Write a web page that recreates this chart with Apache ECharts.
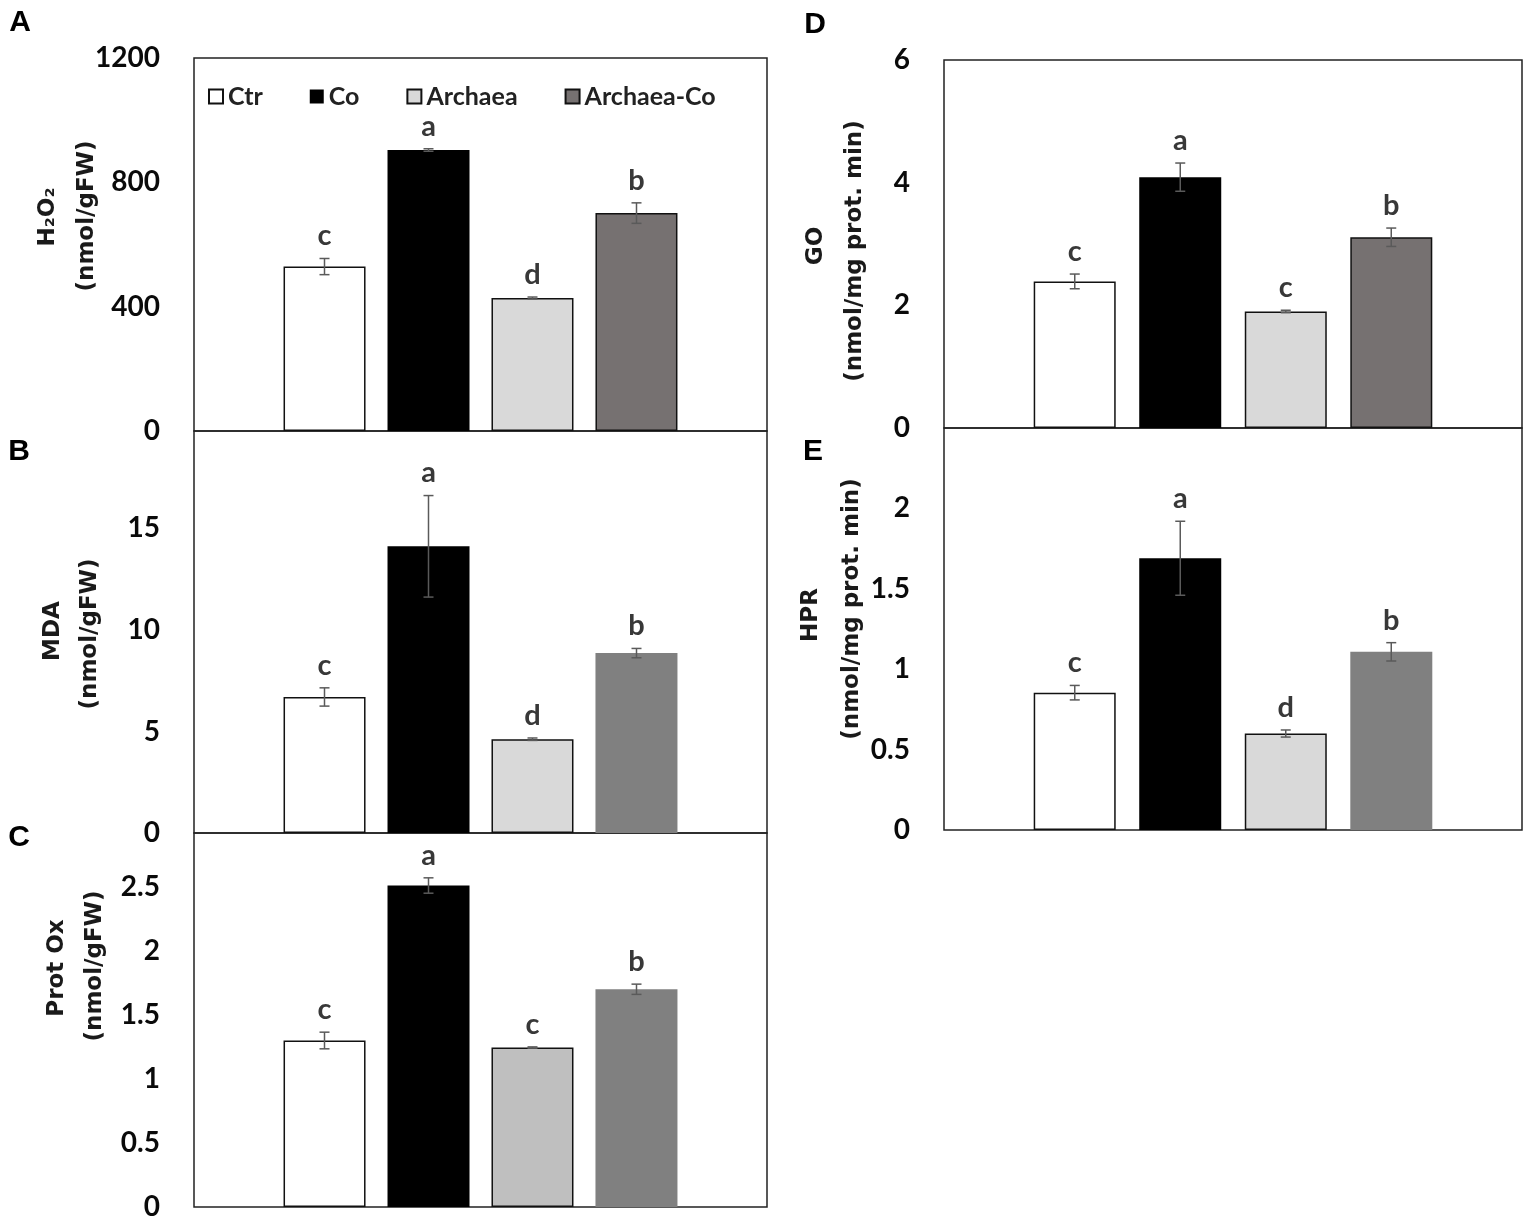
<!DOCTYPE html>
<html>
<head>
<meta charset="utf-8">
<script src="https://cdn.jsdelivr.net/npm/echarts@6/dist/echarts.min.js"></script>
<style>
  html, body { margin: 0; padding: 0; background: #fff; }
  #chart { width: 1536px; height: 1227px; }
</style>
</head>
<body>
<div id="chart"></div>
<script>
// treatments (one bar each, same order in every panel)
const treatments = ['Ctr', 'Co', 'Archaea', 'Archaea-Co'];

// A - H2O2 (nmol/gFW)
const h2o2 = [529, 904, 428, 701];
const h2o2Err = [26, 4, 3, 33];
const h2o2Letters = ['c', 'a', 'd', 'b'];

// B - MDA (nmol/gFW)
const mda = [6.7, 14.12, 4.62, 8.86];
const mdaErr = [0.45, 2.5, 0.06, 0.23];
const mdaLetters = ['c', 'a', 'd', 'b'];

// C - Prot Ox (nmol/gFW)
const protOx = [1.3, 2.51, 1.245, 1.7];
const protOxErr = [0.065, 0.06, 0.005, 0.04];
const protOxLetters = ['c', 'a', 'c', 'b'];

// D - GO (nmol/mg prot. min)
const go = [2.39, 4.09, 1.9, 3.11];
const goErr = [0.12, 0.23, 0.02, 0.15];
const goLetters = ['c', 'a', 'c', 'b'];

// E - HPR (nmol/mg prot. min)
const hpr = [0.854, 1.69, 0.6, 1.108];
const hprErr = [0.045, 0.23, 0.022, 0.057];
const hprLetters = ['c', 'a', 'd', 'b'];

const LABEL_FONT = 'Lato';
const TITLE_FONT = 'DejaVu Sans';

const fillsDark = ['#ffffff', '#000000', '#d9d9d9', '#767171'];
const fillsMid = ['#ffffff', '#000000', '#d9d9d9', '#808080'];
const fillsC = ['#ffffff', '#000000', '#bfbfbf', '#808080'];

const panels = [
  { values: h2o2, errs: h2o2Err, letters: h2o2Letters, fills: fillsDark, lastBorder: true,
    grid: { left: 194, top: 58, width: 573, height: 373 }, max: 1200, interval: 400, showMax: true,
    barWidth: 82, gap: 22 },
  { values: mda, errs: mdaErr, letters: mdaLetters, fills: fillsMid, lastBorder: false,
    grid: { left: 194, top: 431, width: 573, height: 402 }, max: 19.8, interval: 5, showMax: false,
    barWidth: 82, gap: 22 },
  { values: protOx, errs: protOxErr, letters: protOxLetters, fills: fillsC, lastBorder: false,
    grid: { left: 194, top: 833, width: 573, height: 374 }, max: 2.92, interval: 0.5, showMax: false,
    barWidth: 82, gap: 22 },
  { values: go, errs: goErr, letters: goLetters, fills: fillsDark, lastBorder: true,
    grid: { left: 944, top: 60, width: 578, height: 368 }, max: 6, interval: 2, showMax: true,
    barWidth: 82, gap: 23.5 },
  { values: hpr, errs: hprErr, letters: hprLetters, fills: fillsMid, lastBorder: false,
    grid: { left: 944, top: 428, width: 578, height: 402 }, max: 2.5, interval: 0.5, showMax: false,
    barWidth: 82, gap: 23.5 }
];

const grids = [], xAxes = [], yAxes = [], series = [];

panels.forEach((p, k) => {
  grids.push(Object.assign({ show: true, borderColor: '#222', borderWidth: 1.5, backgroundColor: 'transparent' }, p.grid));
  xAxes.push({
    type: 'category', gridIndex: k, data: [''],
    axisLine: { show: false }, axisTick: { show: false }, axisLabel: { show: false }
  });
  yAxes.push({
    type: 'value', gridIndex: k, min: 0, max: p.max, interval: p.interval,
    axisLine: { show: false }, axisTick: { show: false }, splitLine: { show: false },
    axisLabel: {
      margin: 34, color: '#0a0a0a', fontFamily: LABEL_FONT, fontWeight: 'bold', fontSize: 28,
      showMaxLabel: p.showMax, formatter: v => String(v)
    }
  });
  treatments.forEach((name, i) => {
    const bordered = i === 0 || i === 2 || (i === 3 && p.lastBorder);
    series.push({
      type: 'bar', name: name, xAxisIndex: k, yAxisIndex: k,
      barWidth: p.barWidth, barGap: (p.gap / p.barWidth * 100).toFixed(1) + '%',
      itemStyle: { color: p.fills[i], borderColor: bordered ? '#111' : p.fills[i], borderWidth: bordered ? 1.5 : 0 },
      emphasis: { disabled: true },
      data: [p.values[i]]
    });
  });
  // error bars + significance letters
  series.push({
    type: 'custom', xAxisIndex: k, yAxisIndex: k, z: 5, silent: true, clip: false,
    encode: { x: 0, y: 1 },
    data: p.values.map((v, i) => [0, v, p.errs[i]]),
    renderItem: (params, api) => {
      const i = params.dataIndex;
      const v = api.value(1), e = api.value(2);
      const x = api.coord([0, v])[0] + (i - 1.5) * (p.barWidth + p.gap);
      const yTop = api.coord([0, v + e])[1];
      const yBot = api.coord([0, v - e])[1];
      const cap = 5;
      const ls = { stroke: '#5a5a5a', lineWidth: 1.5 };
      return {
        type: 'group',
        children: [
          { type: 'line', shape: { x1: x, y1: yTop, x2: x, y2: yBot }, style: ls },
          { type: 'line', shape: { x1: x - cap, y1: yTop, x2: x + cap, y2: yTop }, style: ls },
          { type: 'line', shape: { x1: x - cap, y1: yBot, x2: x + cap, y2: yBot }, style: ls },
          { type: 'text', x: x, y: yTop - 8,
            style: { text: p.letters[i], align: 'center', verticalAlign: 'bottom', fill: '#383838',
                     font: 'bold 29px ' + LABEL_FONT } }
        ]
      };
    }
  });
});

function vText(text, x, y) {
  return { type: 'text', x: x, y: y, rotation: Math.PI / 2,
    style: { text: text, align: 'center', verticalAlign: 'middle', fill: '#1a1a1a',
             font: 'bold 23px "' + TITLE_FONT + '"' } };
}
function panelLabel(text, x, y) {
  return { type: 'text', x: x, y: y,
    style: { text: text, align: 'center', verticalAlign: 'middle', fill: '#000',
             font: 'bold 30px "Liberation Sans"' } };
}

const chart = echarts.init(document.getElementById('chart'), null, { renderer: 'canvas' });
chart.setOption({
  animation: false,
  backgroundColor: '#fff',
  grid: grids,
  xAxis: xAxes,
  yAxis: yAxes,
  legend: {
    data: treatments, left: 203, top: 79, icon: 'rect', itemWidth: 14, itemHeight: 14, itemGap: 47,
    selectedMode: false,
    textStyle: { fontFamily: LABEL_FONT, fontWeight: 'bold', fontSize: 25, color: '#222' }
  },
  graphic: [
    panelLabel('A', 20, 23), panelLabel('B', 19, 452), panelLabel('C', 19, 838),
    panelLabel('D', 815, 25), panelLabel('E', 813, 452),
    vText('H\u2082O\u2082', 48, 217), vText('(nmol/gFW)', 87, 216),
    vText('MDA', 53, 631), vText('(nmol/gFW)', 90, 634),
    vText('Prot Ox', 57, 968), vText('(nmol/gFW)', 95, 966),
    vText('GO', 816, 246), vText('(nmol/mg prot. min)', 855, 251),
    vText('HPR', 811, 615), vText('(nmol/mg prot. min)', 852, 609)
  ],
  series: series
});
</script>
</body>
</html>
